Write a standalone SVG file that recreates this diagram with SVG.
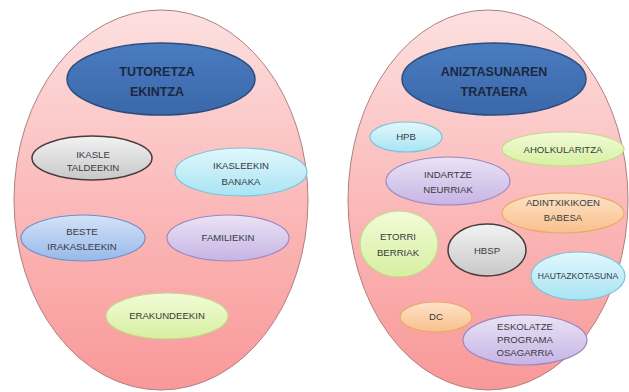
<svg xmlns="http://www.w3.org/2000/svg" width="629" height="392" viewBox="0 0 629 392">
<defs>
<linearGradient id="gPink" x1="0" y1="0" x2="0" y2="1">
<stop offset="0" stop-color="#fde0e0"/><stop offset="0.5" stop-color="#fbbaba"/><stop offset="1" stop-color="#f99898"/>
</linearGradient>
<linearGradient id="gBlue" x1="0" y1="0" x2="0" y2="1">
<stop offset="0" stop-color="#4a7cc0"/><stop offset="1" stop-color="#3a68aa"/>
</linearGradient>
<linearGradient id="gGray" x1="0" y1="0" x2="0" y2="1">
<stop offset="0" stop-color="#f2f2f2"/><stop offset="1" stop-color="#c8c8c8"/>
</linearGradient>
<linearGradient id="gCyan" x1="0" y1="0" x2="0" y2="1">
<stop offset="0" stop-color="#e2f7fc"/><stop offset="1" stop-color="#a8e4f4"/>
</linearGradient>
<linearGradient id="gLBlue" x1="0" y1="0" x2="0" y2="1">
<stop offset="0" stop-color="#d4e3f8"/><stop offset="1" stop-color="#98b8ea"/>
</linearGradient>
<linearGradient id="gLav" x1="0" y1="0" x2="0" y2="1">
<stop offset="0" stop-color="#ebe3f6"/><stop offset="1" stop-color="#c6b4e4"/>
</linearGradient>
<linearGradient id="gGreen" x1="0" y1="0" x2="0" y2="1">
<stop offset="0" stop-color="#f2fbd8"/><stop offset="1" stop-color="#d6f0a0"/>
</linearGradient>
<linearGradient id="gPeach" x1="0" y1="0" x2="0" y2="1">
<stop offset="0" stop-color="#fde3c8"/><stop offset="1" stop-color="#f9c08c"/>
</linearGradient>
</defs>
<style>
text{font-family:"Liberation Sans","Open Sans",sans-serif;text-anchor:middle;fill:#363a42;font-size:9.6px}
.t{font-weight:bold;font-size:12.5px;fill:#1c2740}
.big{fill:url(#gPink);stroke:#b07f7f;stroke-width:1}
.title{fill:url(#gBlue);stroke:#2c4d80;stroke-width:1.5}
.gray{fill:url(#gGray);stroke:#4a3c3c;stroke-width:1.5}
.cyan{fill:url(#gCyan);stroke:#7cc4d8;stroke-width:1.2}
.lblue{fill:url(#gLBlue);stroke:#7090c4;stroke-width:1.2}
.lav{fill:url(#gLav);stroke:#9a88c0;stroke-width:1.2}
.green{fill:url(#gGreen);stroke:#c4d88a;stroke-width:1.2}
.peach{fill:url(#gPeach);stroke:#eaa870;stroke-width:1.2}
</style>
<g id="tutoretza">
<ellipse class="big" cx="161" cy="200" rx="147" ry="190"/>
</g>
<g id="aniztasuna">
<ellipse class="big" cx="488" cy="200" rx="140" ry="190"/>
</g>
<g id="connectors"/>
<g id="n-tutoretza-title">
<ellipse class="title" cx="161" cy="79" rx="94" ry="36"/>
<text class="t" x="157" y="76">TUTORETZA</text>
<text class="t" x="157" y="96">EKINTZA</text>
</g>
<g id="n-ikasle-taldeekin">
<ellipse class="gray" cx="92" cy="158" rx="60" ry="22"/>
<text x="93" y="158">IKASLE</text>
<text x="93" y="171">TALDEEKIN</text>
</g>
<g id="n-ikasleekin-banaka">
<ellipse class="cyan" cx="241" cy="172" rx="66" ry="24"/>
<text x="241" y="169">IKASLEEKIN</text>
<text x="241" y="185">BANAKA</text>
</g>
<g id="n-beste-irakasleekin">
<ellipse class="lblue" cx="83" cy="238" rx="62" ry="23"/>
<text x="82" y="235">BESTE</text>
<text x="82" y="250">IRAKASLEEKIN</text>
</g>
<g id="n-familiekin">
<ellipse class="lav" cx="228" cy="238" rx="61" ry="23"/>
<text x="228" y="241">FAMILIEKIN</text>
</g>
<g id="n-erakundeekin">
<ellipse class="green" cx="167" cy="316" rx="61" ry="23"/>
<text x="167" y="319">ERAKUNDEEKIN</text>
</g>
<g id="n-aniztasunaren-title">
<ellipse class="title" cx="494" cy="79" rx="92" ry="36"/>
<text class="t" x="494" y="76">ANIZTASUNAREN</text>
<text class="t" x="494" y="96">TRATAERA</text>
</g>
<g id="n-hpb">
<ellipse class="cyan" cx="406" cy="137" rx="36" ry="15"/>
<text x="406" y="140">HPB</text>
</g>
<g id="n-aholkularitza">
<ellipse class="green" cx="563" cy="149" rx="61" ry="17"/>
<text x="563" y="153">AHOLKULARITZA</text>
</g>
<g id="n-indartze-neurriak">
<ellipse class="lav" cx="448" cy="181" rx="62" ry="24"/>
<text x="448" y="178">INDARTZE</text>
<text x="448" y="193">NEURRIAK</text>
</g>
<g id="n-adintxikikoen-babesa">
<ellipse class="peach" cx="563" cy="213" rx="61" ry="20"/>
<text x="563" y="206">ADINTXIKIKOEN</text>
<text x="563" y="221">BABESA</text>
</g>
<g id="n-etorri-berriak">
<ellipse class="green" cx="399" cy="244" rx="39" ry="33"/>
<text x="398" y="240">ETORRI</text>
<text x="398" y="256">BERRIAK</text>
</g>
<g id="n-hbsp">
<ellipse class="gray" cx="487" cy="250" rx="39" ry="26"/>
<text x="487" y="254">HBSP</text>
</g>
<g id="n-hautazkotasuna">
<ellipse class="cyan" cx="578" cy="276" rx="47" ry="24"/>
<text x="578" y="279" style="font-size:8.6px">HAUTAZKOTASUNA</text>
</g>
<g id="n-dc">
<ellipse class="peach" cx="436" cy="317" rx="36" ry="15"/>
<text x="436" y="320">DC</text>
</g>
<g id="n-eskolatze">
<ellipse class="lav" cx="525" cy="340" rx="62" ry="25"/>
<text x="525" y="330">ESKOLATZE</text>
<text x="525" y="343">PROGRAMA</text>
<text x="525" y="356">OSAGARRIA</text>
</g>
</svg>
